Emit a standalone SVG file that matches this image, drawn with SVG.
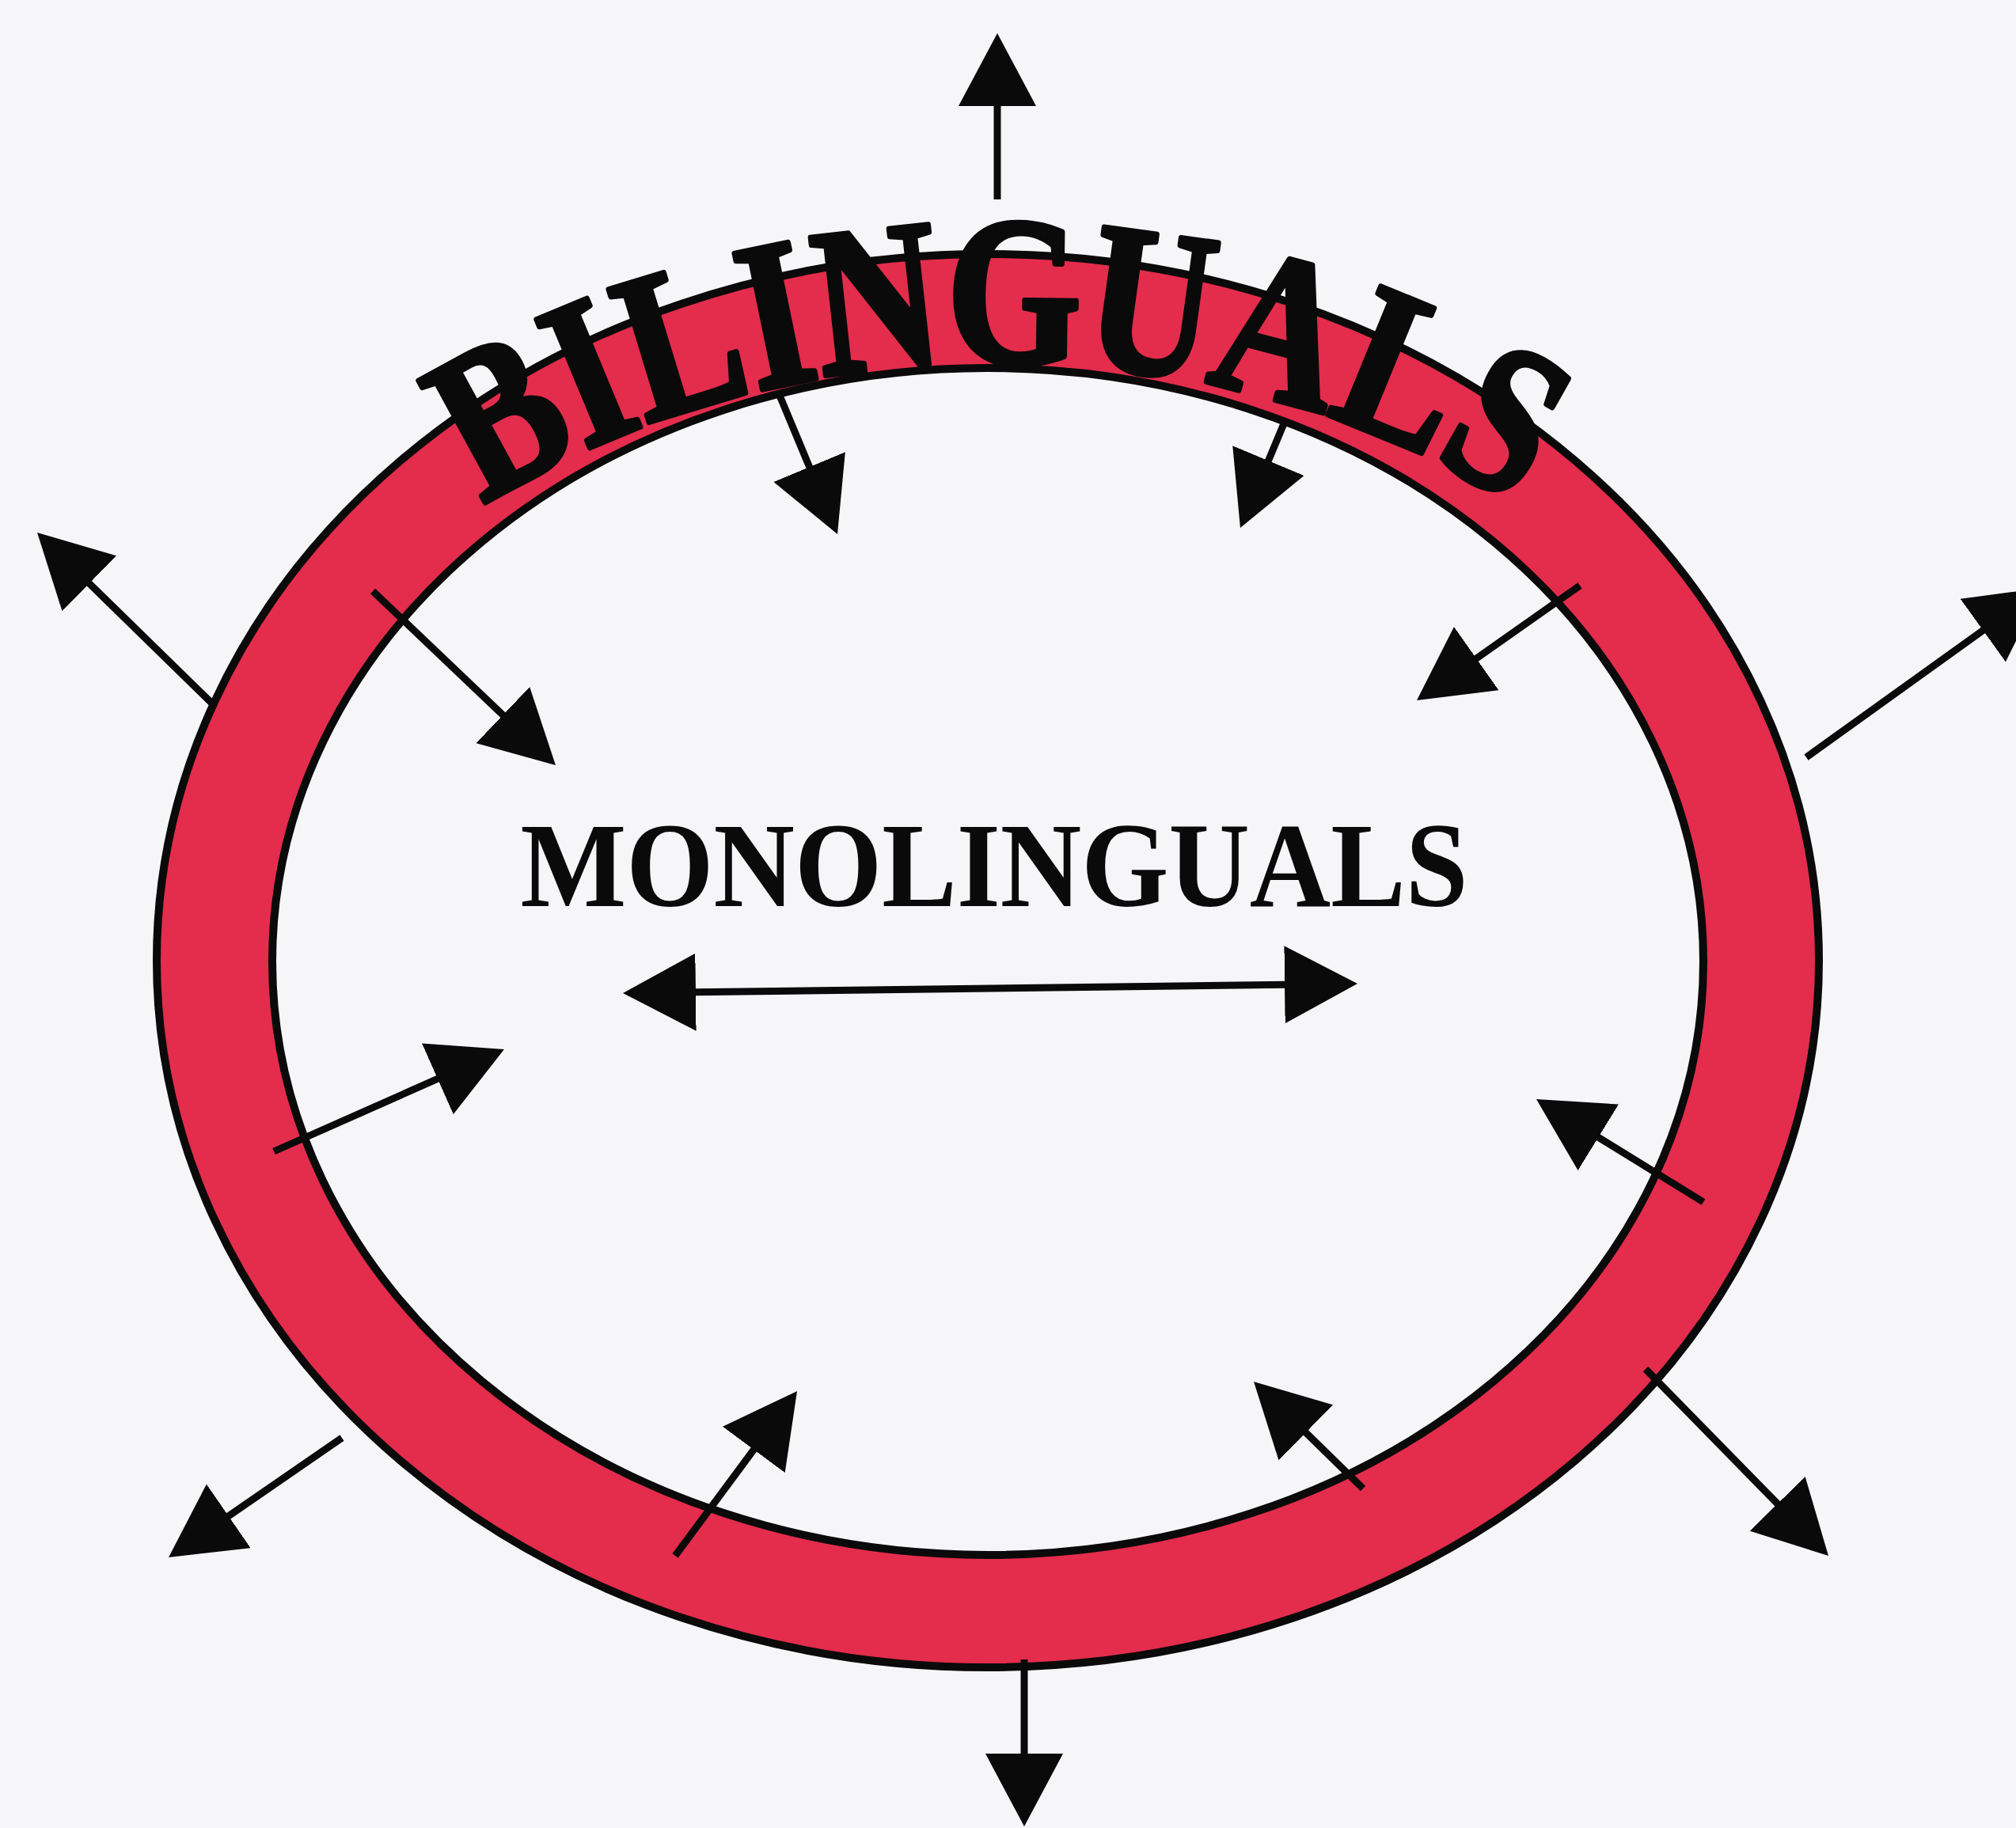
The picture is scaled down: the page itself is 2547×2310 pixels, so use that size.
<svg xmlns="http://www.w3.org/2000/svg" xmlns:xlink="http://www.w3.org/1999/xlink" width="2547" height="2310" viewBox="0 0 2547 2310">
  <defs>
    <style>
      .ring { stroke: #0a0a0a; stroke-width: 10; }
      .conn { stroke: #0a0a0a; stroke-width: 9; fill: none; marker-end: url(#head); }
      .title { font-family: "Liberation Serif", "Times New Roman", serif; font-weight: bold; fill: #0a0a0a; }
      .arch { stroke: #0a0a0a; stroke-width: 7; stroke-linejoin: round; }
    </style>
    <marker id="head" markerUnits="userSpaceOnUse" markerWidth="92" markerHeight="98" viewBox="0 0 92 98" refX="80" refY="49" orient="auto">
      <path d="M0,0 L92,49 L0,98 Z" fill="#0a0a0a"/>
    </marker>
    <marker id="headStart" markerUnits="userSpaceOnUse" markerWidth="92" markerHeight="98" viewBox="0 0 92 98" refX="80" refY="49" orient="auto-start-reverse">
      <path d="M0,0 L92,49 L0,98 Z" fill="#0a0a0a"/>
    </marker>
    <path id="arcPath" d="M 356 891 A 1000 750 0 0 1 2168 891" fill="none"/>
  </defs>

  <rect x="0" y="0" width="2547" height="2310" fill="#f6f6f9"/>

  <g id="bilinguals">
    <ellipse class="ring" cx="1248" cy="1214" rx="1050" ry="893" fill="#e42c4c"/>
    <ellipse class="ring" cx="1248" cy="1215" rx="904" ry="750" fill="#f6f6f9"/>
    <text class="title arch" font-size="268">
      <textPath xlink:href="#arcPath" href="#arcPath" startOffset="50%" text-anchor="middle" textLength="1370" lengthAdjust="spacingAndGlyphs">BILINGUALS</textPath>
    </text>
  </g>

  <g id="monolinguals">
    <text class="title" x="1256" y="1145" font-size="152" text-anchor="middle" textLength="1197" lengthAdjust="spacingAndGlyphs">MONOLINGUALS</text>
  </g>

  <g id="connectors">
    <line class="conn" x1="1260" y1="252" x2="1260" y2="54"/>
    <line class="conn" x1="983" y1="495" x2="1053.4" y2="663.9"/>
    <line class="conn" x1="1623" y1="533" x2="1571.6" y2="655.9"/>
    <line class="conn" x1="267" y1="888" x2="55.6" y2="681.4"/>
    <line class="conn" x1="471" y1="747" x2="693.3" y2="958.7"/>
    <line class="conn" x1="1996" y1="740" x2="1799.8" y2="878.1"/>
    <line class="conn" x1="2282" y1="957" x2="2570.3" y2="750"/>
    <line class="conn" x1="799" y1="1254.8" x2="1703" y2="1243.2" marker-start="url(#headStart)"/>
    <line class="conn" x1="346" y1="1455" x2="626" y2="1330.9"/>
    <line class="conn" x1="2152" y1="1519" x2="1951.2" y2="1395.3"/>
    <line class="conn" x1="432" y1="1817" x2="222.9" y2="1961.2"/>
    <line class="conn" x1="853" y1="1966" x2="999.9" y2="1767.6"/>
    <line class="conn" x1="1722" y1="1881" x2="1592.6" y2="1754.4"/>
    <line class="conn" x1="2079" y1="1730" x2="2301.6" y2="1957.4"/>
    <line class="conn" x1="1294" y1="2097" x2="1294" y2="2296"/>
  </g>
</svg>
